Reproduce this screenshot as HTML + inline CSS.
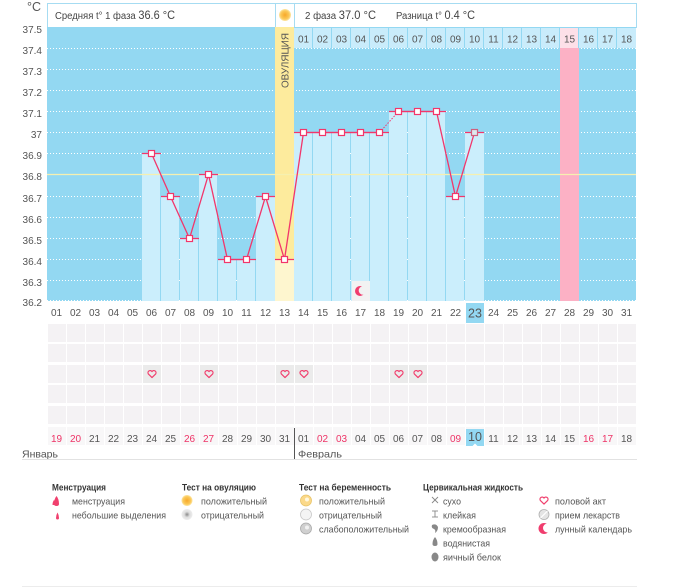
<!DOCTYPE html>
<html><head><meta charset="utf-8"><style>
html,body{margin:0;padding:0;background:#fff;width:675px;height:587px;overflow:hidden}
svg{display:block;font-family:"Liberation Sans","DejaVu Sans",sans-serif}
</style></head><body>
<svg width="675" height="587" viewBox="0 0 675 587" xmlns="http://www.w3.org/2000/svg">
<defs>
<g id="hrt"><path d="M0,3.6 L-3.7,-0.1 A2.1,2.1 0 0 1 0,-2.4 A2.1,2.1 0 0 1 3.7,-0.1 Z" fill="none" stroke="#f0406e" stroke-width="1.2" stroke-linejoin="round"/></g>
<radialGradient id="sun" cx="0.5" cy="0.5" r="0.5"><stop offset="0" stop-color="#f7a82a"/><stop offset="0.7" stop-color="#fbc95a"/><stop offset="1" stop-color="#fde7a8"/></radialGradient>
<radialGradient id="gry" cx="0.5" cy="0.5" r="0.5"><stop offset="0" stop-color="#888"/><stop offset="0.5" stop-color="#ddd"/><stop offset="1" stop-color="#eee"/></radialGradient>
</defs>
<rect width="675" height="587" fill="#fff"/>
<!-- header box -->
<rect x="47.5" y="3.5" width="589" height="24" fill="#fff" stroke="#a6dcf2"/>
<line x1="275.5" y1="3" x2="275.5" y2="27" stroke="#a6dcf2"/>
<line x1="294.5" y1="3" x2="294.5" y2="27" stroke="#a6dcf2"/>
<circle cx="285" cy="15" r="6" fill="url(#sun)"/>
<text x="55" y="19" font-size="10" fill="#444" textLength="120" lengthAdjust="spacingAndGlyphs">Средняя t° 1 фаза <tspan font-size="11.5">36.6 °C</tspan></text>
<text x="305" y="19" font-size="10" fill="#444" textLength="71" lengthAdjust="spacingAndGlyphs">2 фаза <tspan font-size="11.5">37.0 °C</tspan></text>
<text x="396" y="19" font-size="10" fill="#444" textLength="79" lengthAdjust="spacingAndGlyphs">Разница t° <tspan font-size="11.5">0.4 °C</tspan></text>
<text x="41" y="11" font-size="12.5" fill="#555" text-anchor="end">°C</text>
<!-- chart bg -->
<rect x="47" y="27" width="589" height="274" fill="#93d8f2"/>
<g stroke="#fff" stroke-dasharray="1 2" stroke-width="1">
<line x1="47" y1="48.5" x2="636" y2="48.5"/><line x1="47" y1="69.5" x2="636" y2="69.5"/><line x1="47" y1="90.5" x2="636" y2="90.5"/><line x1="47" y1="111.5" x2="636" y2="111.5"/><line x1="47" y1="132.5" x2="636" y2="132.5"/><line x1="47" y1="153.5" x2="636" y2="153.5"/><line x1="47" y1="196.5" x2="636" y2="196.5"/><line x1="47" y1="217.5" x2="636" y2="217.5"/><line x1="47" y1="238.5" x2="636" y2="238.5"/><line x1="47" y1="259.5" x2="636" y2="259.5"/><line x1="47" y1="280.5" x2="636" y2="280.5"/><line x1="47" y1="300.5" x2="636" y2="300.5"/>
</g>
<!-- ovulation column -->
<rect x="275" y="27" width="19" height="232" fill="#fdeb9d"/>
<rect x="275" y="259" width="19" height="42" fill="#fef6cf"/>
<text transform="translate(288.5,60.5) rotate(-90)" font-size="10" fill="#555" text-anchor="middle" textLength="55" lengthAdjust="spacingAndGlyphs">ОВУЛЯЦИЯ</text>
<!-- pink column -->
<rect x="560" y="48" width="19" height="253" fill="#fcb1c5"/>
<!-- phase 2 header row -->
<g fill="#c9ecfb">
<rect x="294" y="28" width="18" height="20"/><rect x="313" y="28" width="18" height="20"/><rect x="332" y="28" width="18" height="20"/><rect x="351" y="28" width="18" height="20"/><rect x="370" y="28" width="18" height="20"/><rect x="389" y="28" width="18" height="20"/><rect x="408" y="28" width="18" height="20"/><rect x="427" y="28" width="18" height="20"/><rect x="446" y="28" width="18" height="20"/><rect x="465" y="28" width="18" height="20"/><rect x="484" y="28" width="18" height="20"/><rect x="503" y="28" width="18" height="20"/><rect x="522" y="28" width="18" height="20"/><rect x="541" y="28" width="18" height="20"/><rect x="560" y="28" width="18" height="20" fill="#fde0e8"/><rect x="579" y="28" width="18" height="20"/><rect x="598" y="28" width="18" height="20"/><rect x="617" y="28" width="19" height="20"/>
</g>
<g font-size="10" fill="#555" text-anchor="middle">
<text x="303.5" y="42.5">01</text><text x="322.5" y="42.5">02</text><text x="341.5" y="42.5">03</text><text x="360.5" y="42.5">04</text><text x="379.5" y="42.5">05</text><text x="398.5" y="42.5">06</text><text x="417.5" y="42.5">07</text><text x="436.5" y="42.5">08</text><text x="455.5" y="42.5">09</text><text x="474.5" y="42.5">10</text><text x="493.5" y="42.5">11</text><text x="512.5" y="42.5">12</text><text x="531.5" y="42.5">13</text><text x="550.5" y="42.5">14</text><text x="569.5" y="42.5">15</text><text x="588.5" y="42.5">16</text><text x="607.5" y="42.5">17</text><text x="626.5" y="42.5">18</text>
</g>
<!-- bars -->
<g fill="#cbeefc">
<rect x="142" y="153" width="18" height="148"/>
<rect x="161" y="196" width="18" height="105"/>
<rect x="180" y="238" width="18" height="63"/>
<rect x="199" y="174" width="18" height="127"/>
<rect x="218" y="259" width="18" height="42"/>
<rect x="237" y="259" width="18" height="42"/>
<rect x="256" y="196" width="19" height="105"/>
<rect x="294" y="132" width="18" height="169"/>
<rect x="313" y="132" width="18" height="169"/>
<rect x="332" y="132" width="18" height="169"/>
<rect x="351" y="132" width="18" height="169"/>
<rect x="370" y="132" width="18" height="169"/>
<rect x="389" y="111" width="18" height="190"/>
<rect x="408" y="111" width="18" height="190"/>
<rect x="427" y="111" width="18" height="190"/>
<rect x="446" y="196" width="18" height="105"/>
<rect x="465" y="132" width="19" height="169"/>
</g>
<!-- coverline -->
<line x1="47" y1="174.5" x2="636" y2="174.5" stroke="#f6f0b0" stroke-width="1.2"/>
<!-- moon cell -->
<rect x="352" y="281" width="18" height="20" fill="#f2f2f2"/>
<circle cx="360" cy="291" r="5" fill="#f03d6e"/>
<circle cx="363" cy="290.5" r="4.3" fill="#f2f2f2"/>
<!-- red ticks -->
<g stroke="#f2366b" stroke-width="1.3" fill="none">
<line x1="142" y1="153.5" x2="161" y2="153.5"/>
<line x1="161" y1="196.5" x2="180" y2="196.5"/>
<line x1="180" y1="238.5" x2="199" y2="238.5"/>
<line x1="199" y1="174.5" x2="218" y2="174.5"/>
<line x1="218" y1="259.5" x2="256" y2="259.5"/>
<line x1="256" y1="196.5" x2="275" y2="196.5"/>
<line x1="275" y1="259.5" x2="294" y2="259.5"/>
<line x1="294" y1="132.5" x2="389" y2="132.5"/>
<line x1="389" y1="111.5" x2="446" y2="111.5"/>
<line x1="446" y1="196.5" x2="465" y2="196.5"/>
<line x1="465" y1="132.5" x2="484" y2="132.5"/>
<polyline points="151.5,153.5 170.5,196.5 189.5,238.5 208.5,174.5 227.5,259.5 246.5,259.5 265.5,196.5 284.5,259.5 303.5,132.5 379.5,132.5"/>
<line x1="379.5" y1="132.5" x2="398.5" y2="111.5" stroke-dasharray="1.5 1.5" stroke-width="1"/>
<polyline points="398.5,111.5 436.5,111.5 455.5,196.5 474.5,132.5"/>
</g>
<g fill="#fff" stroke="#f2366b" stroke-width="1.2">
<rect x="148.5" y="150.5" width="6" height="6"/><rect x="167.5" y="193.5" width="6" height="6"/><rect x="186.5" y="235.5" width="6" height="6"/><rect x="205.5" y="171.5" width="6" height="6"/><rect x="224.5" y="256.5" width="6" height="6"/><rect x="243.5" y="256.5" width="6" height="6"/><rect x="262.5" y="193.5" width="6" height="6"/><rect x="281.5" y="256.5" width="6" height="6"/><rect x="300.5" y="129.5" width="6" height="6"/><rect x="319.5" y="129.5" width="6" height="6"/><rect x="338.5" y="129.5" width="6" height="6"/><rect x="357.5" y="129.5" width="6" height="6"/><rect x="376.5" y="129.5" width="6" height="6"/><rect x="395.5" y="108.5" width="6" height="6"/><rect x="414.5" y="108.5" width="6" height="6"/><rect x="433.5" y="108.5" width="6" height="6"/><rect x="452.5" y="193.5" width="6" height="6"/>
<rect x="471.5" y="129.5" width="6" height="6" fill="#dde8ee" stroke="#d0607e"/>
</g>
<!-- y labels -->
<g font-size="10" fill="#555" text-anchor="end">
<text x="42" y="33">37.5</text><text x="42" y="54">37.4</text><text x="42" y="75">37.3</text><text x="42" y="96">37.2</text><text x="42" y="117">37.1</text><text x="42" y="138">37</text><text x="42" y="159">36.9</text><text x="42" y="180">36.8</text><text x="42" y="202">36.7</text><text x="42" y="223">36.6</text><text x="42" y="244">36.5</text><text x="42" y="265">36.4</text><text x="42" y="286">36.3</text><text x="42" y="306">36.2</text>
</g>
<!-- x labels -->
<rect x="466" y="303" width="18" height="20" fill="#93d8f2"/>
<g font-size="10" fill="#555" text-anchor="middle">
<text x="56.5" y="316">01</text><text x="75.5" y="316">02</text><text x="94.5" y="316">03</text><text x="113.5" y="316">04</text><text x="132.5" y="316">05</text><text x="151.5" y="316">06</text><text x="170.5" y="316">07</text><text x="189.5" y="316">08</text><text x="208.5" y="316">09</text><text x="227.5" y="316">10</text><text x="246.5" y="316">11</text><text x="265.5" y="316">12</text><text x="284.5" y="316">13</text><text x="303.5" y="316">14</text><text x="322.5" y="316">15</text><text x="341.5" y="316">16</text><text x="360.5" y="316">17</text><text x="379.5" y="316">18</text><text x="398.5" y="316">19</text><text x="417.5" y="316">20</text><text x="436.5" y="316">21</text><text x="455.5" y="316">22</text><text x="475" y="317.5" font-size="12.5">23</text><text x="493.5" y="316">24</text><text x="512.5" y="316">25</text><text x="531.5" y="316">26</text><text x="550.5" y="316">27</text><text x="569.5" y="316">28</text><text x="588.5" y="316">29</text><text x="607.5" y="316">30</text><text x="626.5" y="316">31</text>
</g>
<!-- bottom grid -->
<g fill="#f4f2f4">
<rect x="48" y="324" width="18" height="18"/><rect x="67" y="324" width="18" height="18"/><rect x="86" y="324" width="18" height="18"/><rect x="105" y="324" width="18" height="18"/><rect x="124" y="324" width="18" height="18"/><rect x="143" y="324" width="18" height="18"/><rect x="162" y="324" width="18" height="18"/><rect x="181" y="324" width="18" height="18"/><rect x="200" y="324" width="18" height="18"/><rect x="219" y="324" width="18" height="18"/><rect x="238" y="324" width="18" height="18"/><rect x="257" y="324" width="18" height="18"/><rect x="276" y="324" width="18" height="18"/><rect x="295" y="324" width="18" height="18"/><rect x="314" y="324" width="18" height="18"/><rect x="333" y="324" width="18" height="18"/><rect x="352" y="324" width="18" height="18"/><rect x="371" y="324" width="18" height="18"/><rect x="390" y="324" width="18" height="18"/><rect x="409" y="324" width="18" height="18"/><rect x="428" y="324" width="18" height="18"/><rect x="447" y="324" width="18" height="18"/><rect x="466" y="324" width="18" height="18"/><rect x="485" y="324" width="18" height="18"/><rect x="504" y="324" width="18" height="18"/><rect x="523" y="324" width="18" height="18"/><rect x="542" y="324" width="18" height="18"/><rect x="561" y="324" width="18" height="18"/><rect x="580" y="324" width="18" height="18"/><rect x="599" y="324" width="18" height="18"/><rect x="618" y="324" width="18" height="18"/>
</g>
<g fill="#f4f2f4" transform="translate(0,20)">
<rect x="48" y="324" width="18" height="18"/><rect x="67" y="324" width="18" height="18"/><rect x="86" y="324" width="18" height="18"/><rect x="105" y="324" width="18" height="18"/><rect x="124" y="324" width="18" height="18"/><rect x="143" y="324" width="18" height="18"/><rect x="162" y="324" width="18" height="18"/><rect x="181" y="324" width="18" height="18"/><rect x="200" y="324" width="18" height="18"/><rect x="219" y="324" width="18" height="18"/><rect x="238" y="324" width="18" height="18"/><rect x="257" y="324" width="18" height="18"/><rect x="276" y="324" width="18" height="18"/><rect x="295" y="324" width="18" height="18"/><rect x="314" y="324" width="18" height="18"/><rect x="333" y="324" width="18" height="18"/><rect x="352" y="324" width="18" height="18"/><rect x="371" y="324" width="18" height="18"/><rect x="390" y="324" width="18" height="18"/><rect x="409" y="324" width="18" height="18"/><rect x="428" y="324" width="18" height="18"/><rect x="447" y="324" width="18" height="18"/><rect x="466" y="324" width="18" height="18"/><rect x="485" y="324" width="18" height="18"/><rect x="504" y="324" width="18" height="18"/><rect x="523" y="324" width="18" height="18"/><rect x="542" y="324" width="18" height="18"/><rect x="561" y="324" width="18" height="18"/><rect x="580" y="324" width="18" height="18"/><rect x="599" y="324" width="18" height="18"/><rect x="618" y="324" width="18" height="18"/>
</g>
<g fill="#f4f2f4" transform="translate(0,41)">
<rect x="48" y="324" width="18" height="18"/><rect x="67" y="324" width="18" height="18"/><rect x="86" y="324" width="18" height="18"/><rect x="105" y="324" width="18" height="18"/><rect x="124" y="324" width="18" height="18"/><rect x="143" y="324" width="18" height="18" fill="#ebebeb"/><rect x="162" y="324" width="18" height="18"/><rect x="181" y="324" width="18" height="18"/><rect x="200" y="324" width="18" height="18" fill="#ebebeb"/><rect x="219" y="324" width="18" height="18"/><rect x="238" y="324" width="18" height="18"/><rect x="257" y="324" width="18" height="18"/><rect x="276" y="324" width="18" height="18" fill="#ebebeb"/><rect x="295" y="324" width="18" height="18" fill="#ebebeb"/><rect x="314" y="324" width="18" height="18"/><rect x="333" y="324" width="18" height="18"/><rect x="352" y="324" width="18" height="18"/><rect x="371" y="324" width="18" height="18"/><rect x="390" y="324" width="18" height="18" fill="#ebebeb"/><rect x="409" y="324" width="18" height="18" fill="#ebebeb"/><rect x="428" y="324" width="18" height="18"/><rect x="447" y="324" width="18" height="18"/><rect x="466" y="324" width="18" height="18"/><rect x="485" y="324" width="18" height="18"/><rect x="504" y="324" width="18" height="18"/><rect x="523" y="324" width="18" height="18"/><rect x="542" y="324" width="18" height="18"/><rect x="561" y="324" width="18" height="18"/><rect x="580" y="324" width="18" height="18"/><rect x="599" y="324" width="18" height="18"/><rect x="618" y="324" width="18" height="18"/>
</g>
<g fill="#f4f2f4" transform="translate(0,61)">
<rect x="48" y="324" width="18" height="18"/><rect x="67" y="324" width="18" height="18"/><rect x="86" y="324" width="18" height="18"/><rect x="105" y="324" width="18" height="18"/><rect x="124" y="324" width="18" height="18"/><rect x="143" y="324" width="18" height="18"/><rect x="162" y="324" width="18" height="18"/><rect x="181" y="324" width="18" height="18"/><rect x="200" y="324" width="18" height="18"/><rect x="219" y="324" width="18" height="18"/><rect x="238" y="324" width="18" height="18"/><rect x="257" y="324" width="18" height="18"/><rect x="276" y="324" width="18" height="18"/><rect x="295" y="324" width="18" height="18"/><rect x="314" y="324" width="18" height="18"/><rect x="333" y="324" width="18" height="18"/><rect x="352" y="324" width="18" height="18"/><rect x="371" y="324" width="18" height="18"/><rect x="390" y="324" width="18" height="18"/><rect x="409" y="324" width="18" height="18"/><rect x="428" y="324" width="18" height="18"/><rect x="447" y="324" width="18" height="18"/><rect x="466" y="324" width="18" height="18"/><rect x="485" y="324" width="18" height="18"/><rect x="504" y="324" width="18" height="18"/><rect x="523" y="324" width="18" height="18"/><rect x="542" y="324" width="18" height="18"/><rect x="561" y="324" width="18" height="18"/><rect x="580" y="324" width="18" height="18"/><rect x="599" y="324" width="18" height="18"/><rect x="618" y="324" width="18" height="18"/>
</g>
<g fill="#f4f2f4" transform="translate(0,82)">
<rect x="48" y="324" width="18" height="18"/><rect x="67" y="324" width="18" height="18"/><rect x="86" y="324" width="18" height="18"/><rect x="105" y="324" width="18" height="18"/><rect x="124" y="324" width="18" height="18"/><rect x="143" y="324" width="18" height="18"/><rect x="162" y="324" width="18" height="18"/><rect x="181" y="324" width="18" height="18"/><rect x="200" y="324" width="18" height="18"/><rect x="219" y="324" width="18" height="18"/><rect x="238" y="324" width="18" height="18"/><rect x="257" y="324" width="18" height="18"/><rect x="276" y="324" width="18" height="18"/><rect x="295" y="324" width="18" height="18"/><rect x="314" y="324" width="18" height="18"/><rect x="333" y="324" width="18" height="18"/><rect x="352" y="324" width="18" height="18"/><rect x="371" y="324" width="18" height="18"/><rect x="390" y="324" width="18" height="18"/><rect x="409" y="324" width="18" height="18"/><rect x="428" y="324" width="18" height="18"/><rect x="447" y="324" width="18" height="18"/><rect x="466" y="324" width="18" height="18"/><rect x="485" y="324" width="18" height="18"/><rect x="504" y="324" width="18" height="18"/><rect x="523" y="324" width="18" height="18"/><rect x="542" y="324" width="18" height="18"/><rect x="561" y="324" width="18" height="18"/><rect x="580" y="324" width="18" height="18"/><rect x="599" y="324" width="18" height="18"/><rect x="618" y="324" width="18" height="18"/>
</g>
<g fill="#f8f7f8" transform="translate(0,103)">
<rect x="48" y="324" width="18" height="18"/><rect x="67" y="324" width="18" height="18"/><rect x="86" y="324" width="18" height="18"/><rect x="105" y="324" width="18" height="18"/><rect x="124" y="324" width="18" height="18"/><rect x="143" y="324" width="18" height="18"/><rect x="162" y="324" width="18" height="18"/><rect x="181" y="324" width="18" height="18"/><rect x="200" y="324" width="18" height="18"/><rect x="219" y="324" width="18" height="18"/><rect x="238" y="324" width="18" height="18"/><rect x="257" y="324" width="18" height="18"/><rect x="276" y="324" width="18" height="18"/><rect x="295" y="324" width="18" height="18"/><rect x="314" y="324" width="18" height="18"/><rect x="333" y="324" width="18" height="18"/><rect x="352" y="324" width="18" height="18"/><rect x="371" y="324" width="18" height="18"/><rect x="390" y="324" width="18" height="18"/><rect x="409" y="324" width="18" height="18"/><rect x="428" y="324" width="18" height="18"/><rect x="447" y="324" width="18" height="18"/><rect x="466" y="324" width="18" height="18"/><rect x="485" y="324" width="18" height="18"/><rect x="504" y="324" width="18" height="18"/><rect x="523" y="324" width="18" height="18"/><rect x="542" y="324" width="18" height="18"/><rect x="561" y="324" width="18" height="18"/><rect x="580" y="324" width="18" height="18"/><rect x="599" y="324" width="18" height="18"/><rect x="618" y="324" width="18" height="18"/>
</g>
<!-- hearts -->
<use href="#hrt" x="152" y="374"/><use href="#hrt" x="209" y="374"/><use href="#hrt" x="285" y="374"/><use href="#hrt" x="304" y="374"/><use href="#hrt" x="399" y="374"/><use href="#hrt" x="418" y="374"/>
<!-- dates -->
<rect x="466" y="429" width="18" height="17" fill="#93d8f2"/>
<path d="M472.5,446 L475,443.5 L477.5,446 Z" fill="#fff"/>
<g font-size="10" fill="#555" text-anchor="middle">
<text x="56.5" y="442" fill="#ee3366">19</text><text x="75.5" y="442" fill="#ee3366">20</text><text x="94.5" y="442">21</text><text x="113.5" y="442">22</text><text x="132.5" y="442">23</text><text x="151.5" y="442">24</text><text x="170.5" y="442">25</text><text x="189.5" y="442" fill="#ee3366">26</text><text x="208.5" y="442" fill="#ee3366">27</text><text x="227.5" y="442">28</text><text x="246.5" y="442">29</text><text x="265.5" y="442">30</text><text x="284.5" y="442">31</text><text x="303.5" y="442">01</text><text x="322.5" y="442" fill="#ee3366">02</text><text x="341.5" y="442" fill="#ee3366">03</text><text x="360.5" y="442">04</text><text x="379.5" y="442">05</text><text x="398.5" y="442">06</text><text x="417.5" y="442">07</text><text x="436.5" y="442">08</text><text x="455.5" y="442" fill="#ee3366">09</text><text x="475" y="441" font-size="12.5">10</text><text x="493.5" y="442">11</text><text x="512.5" y="442">12</text><text x="531.5" y="442">13</text><text x="550.5" y="442">14</text><text x="569.5" y="442">15</text><text x="588.5" y="442" fill="#ee3366">16</text><text x="607.5" y="442" fill="#ee3366">17</text><text x="626.5" y="442">18</text>
</g>
<line x1="294.5" y1="428" x2="294.5" y2="459" stroke="#555"/>
<text x="22" y="457.5" font-size="10.5" fill="#555" textLength="36" lengthAdjust="spacingAndGlyphs">Январь</text>
<text x="298" y="457.5" font-size="10.5" fill="#555" textLength="44" lengthAdjust="spacingAndGlyphs">Февраль</text>
<line x1="22" y1="459.5" x2="637" y2="459.5" stroke="#e2e2e2"/>
<!-- legend -->
<g font-size="9.5" fill="#333" font-weight="bold" lengthAdjust="spacingAndGlyphs">
<text x="52" y="490.5" textLength="54" lengthAdjust="spacingAndGlyphs">Менструация</text>
<text x="182" y="490.5" textLength="74" lengthAdjust="spacingAndGlyphs">Тест на овуляцию</text>
<text x="299" y="490.5" textLength="92" lengthAdjust="spacingAndGlyphs">Тест на беременность</text>
<text x="423" y="490.5" textLength="100" lengthAdjust="spacingAndGlyphs">Цервикальная жидкость</text>
</g>
<g font-size="9.5" fill="#555">
<text x="72" y="504.5" textLength="53" lengthAdjust="spacingAndGlyphs">менструация</text>
<text x="72" y="518.5" textLength="94" lengthAdjust="spacingAndGlyphs">небольшие выделения</text>
<text x="201" y="504.5" textLength="66" lengthAdjust="spacingAndGlyphs">положительный</text>
<text x="201" y="518.5" textLength="63" lengthAdjust="spacingAndGlyphs">отрицательный</text>
<text x="319" y="504.5" textLength="66" lengthAdjust="spacingAndGlyphs">положительный</text>
<text x="319" y="518.5" textLength="63" lengthAdjust="spacingAndGlyphs">отрицательный</text>
<text x="319" y="532.5" textLength="90" lengthAdjust="spacingAndGlyphs">слабоположительный</text>
<text x="443" y="504.5" textLength="18" lengthAdjust="spacingAndGlyphs">сухо</text>
<text x="443" y="518.5" textLength="33" lengthAdjust="spacingAndGlyphs">клейкая</text>
<text x="443" y="532.5" textLength="63" lengthAdjust="spacingAndGlyphs">кремообразная</text>
<text x="443" y="546.5" textLength="47" lengthAdjust="spacingAndGlyphs">водянистая</text>
<text x="443" y="560.5" textLength="58" lengthAdjust="spacingAndGlyphs">яичный белок</text>
<text x="555" y="504.5" textLength="51" lengthAdjust="spacingAndGlyphs">половой акт</text>
<text x="555" y="518.5" textLength="65" lengthAdjust="spacingAndGlyphs">прием лекарств</text>
<text x="555" y="532.5" textLength="77" lengthAdjust="spacingAndGlyphs">лунный календарь</text>
</g>
<!-- legend icons -->
<path d="M54,504 Q54,499 56.5,496 Q59,499 59,504 Q59,506 56.5,506 Q54,506 54,504 Z" fill="#f0406e"/>
<path d="M52.5,505 Q52.5,502 54,500 Q55.5,502 55.5,505 Z" fill="#f0406e"/>
<path d="M56,518 Q56,515 57.5,512.5 Q59,515 59,518 Q59,519.5 57.5,519.5 Q56,519.5 56,518 Z" fill="#f0406e"/>
<circle cx="187" cy="500.5" r="5.5" fill="url(#sun)"/>
<circle cx="187" cy="514.5" r="5.5" fill="url(#gry)"/>
<circle cx="306" cy="500.5" r="5.5" fill="#fbd98a" stroke="#e8c46a" stroke-width="0.8"/>
<circle cx="307" cy="499.5" r="2" fill="#fff8e0"/>
<circle cx="306" cy="514.5" r="5.5" fill="#f4f4f4" stroke="#c8c8c8" stroke-width="0.8"/>
<circle cx="306" cy="528.5" r="5.5" fill="#d0d0d0" stroke="#aaa" stroke-width="0.8"/>
<circle cx="307" cy="527.5" r="2" fill="#f2f2f2"/>
<g stroke="#888" stroke-width="0.9" fill="none">
<line x1="432" y1="497" x2="438" y2="503"/><line x1="438" y1="497" x2="432" y2="503"/>
<line x1="432" y1="511" x2="438" y2="511"/><line x1="435" y1="511" x2="435" y2="517"/><line x1="432" y1="517" x2="438" y2="517"/>
</g>
<path d="M432,525 Q436,523 438,527 Q438,531 435,533 Q436,530 434,529 Q431,528 432,525 Z" fill="#888"/>
<path d="M432.5,544 Q432.5,540 435,537 Q437.5,540 437.5,544 Q437.5,546 435,546 Q432.5,546 432.5,544 Z" fill="#888"/>
<ellipse cx="435" cy="557" rx="3.5" ry="4.5" fill="#888"/>
<use href="#hrt" x="544" y="500.5"/>
<circle cx="544" cy="514.5" r="5" fill="#e4e4e4" stroke="#b0b0b0" stroke-width="0.8"/>
<line x1="540.5" y1="518" x2="547.5" y2="511" stroke="#fff" stroke-width="1.2"/>
<circle cx="544" cy="528.5" r="5.5" fill="#f03d6e"/>
<circle cx="547.5" cy="528" r="4.5" fill="#fff"/>
<line x1="22" y1="586.5" x2="637" y2="586.5" stroke="#ececec"/>
</svg>
</body></html>
